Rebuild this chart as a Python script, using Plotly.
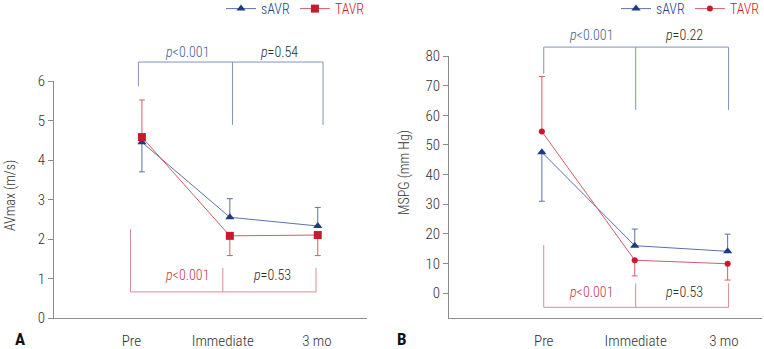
import plotly.graph_objects as go

W, H = 764, 349

# ---------------- data ----------------
categories = ["Pre", "Immediate", "3 mo"]

avmax_savr = [4.45, 2.55, 2.33]
avmax_savr_err_up = [0.0, 0.47, 0.47]
avmax_savr_err_dn = [0.75, 0.0, 0.0]
avmax_tavr = [4.58, 2.08, 2.10]
avmax_tavr_err_up = [0.94, 0.0, 0.0]
avmax_tavr_err_dn = [0.0, 0.50, 0.52]

mspg_savr = [47.5, 16.0, 14.1]
mspg_savr_err_up = [0.0, 5.6, 5.8]
mspg_savr_err_dn = [16.5, 0.0, 0.0]
mspg_tavr = [54.5, 11.1, 9.9]
mspg_tavr_err_up = [18.6, 0.0, 0.0]
mspg_tavr_err_dn = [0.0, 5.3, 5.5]

p_left_top = ["p<0.001", "p=0.54"]
p_left_bottom = ["p<0.001", "p=0.53"]
p_right_top = ["p<0.001", "p=0.22"]
p_right_bottom = ["p<0.001", "p=0.53"]

# ---------------- style ----------------
FONT = "Roboto Condensed, Liberation Sans Narrow, Arial Narrow, Roboto, sans-serif"
WEIGHT = 300
NAVY = "#1d3b82"
NAVY_LINE = "#5a72a8"
RED = "#c8192e"
RED_LINE = "#d45d6a"
TXT_BLUE = "#3f5a9c"
TXT_RED = "#c8364a"
TXT_DARK = "#2a2a2a"
BR_BLUE = "#8093bb"
BR_RED = "#dc8b94"
AXIS = "#8c8c8c"

x_idx = list(range(len(categories)))

# axis geometry (paper fractions)
LX = [54 / W, 367 / W]
LY = [(H - 318) / H, (H - 81) / H]
LXR = [-1.0, 2.56]
LYR = [0, 6]
RX = [449 / W, 762 / W]
RY = [(H - 318) / H, (H - 56) / H]
RXR = [-1.0, 2.37]
RYR = [-8.4, 80]


def to_paper(x, y, xd, yd, xr, yr):
    px = xd[0] + (x - xr[0]) / (xr[1] - xr[0]) * (xd[1] - xd[0])
    py = yd[0] + (y - yr[0]) / (yr[1] - yr[0]) * (yd[1] - yd[0])
    return px, py


fig = go.Figure()


def add_series(y, up, dn, name, color, line_color, symbol, size, xa, ya, legend):
    fig.add_trace(go.Scatter(
        x=x_idx, y=y, mode="lines+markers", name=name,
        line=dict(color=line_color, width=1),
        marker=dict(color=color, symbol=symbol, size=size),
        error_y=dict(type="data", symmetric=False, array=up, arrayminus=dn,
                     color=line_color, thickness=1, width=3),
        xaxis=xa, yaxis=ya, legend=legend, showlegend=True,
    ))


sname = f"<span style='color:{NAVY}'>sAVR</span>"
tname = f"<span style='color:{RED}'>TAVR</span>"

add_series(avmax_savr, avmax_savr_err_up, avmax_savr_err_dn, sname, NAVY, NAVY_LINE,
           "triangle-up", 8, "x", "y", "legend")
add_series(avmax_tavr, avmax_tavr_err_up, avmax_tavr_err_dn, tname, RED, RED_LINE,
           "square", 8, "x", "y", "legend")
add_series(mspg_savr, mspg_savr_err_up, mspg_savr_err_dn, sname, NAVY, NAVY_LINE,
           "triangle-up", 8, "x2", "y2", "legend2")
add_series(mspg_tavr, mspg_tavr_err_up, mspg_tavr_err_dn, tname, RED, RED_LINE,
           "circle", 6, "x2", "y2", "legend2")

shapes = []
annos = []


def bracket(xs, yh, ends, color, geo):
    xd, yd, xr, yr = geo
    p0 = to_paper(xs[0], yh, xd, yd, xr, yr)
    p1 = to_paper(xs[-1], yh, xd, yd, xr, yr)
    shapes.append(dict(type="line", xref="paper", yref="paper", x0=p0[0], y0=p0[1],
                       x1=p1[0], y1=p1[1], line=dict(color=color, width=1)))
    for xv, ye in zip(xs, ends):
        a = to_paper(xv, yh, xd, yd, xr, yr)
        b = to_paper(xv, ye, xd, yd, xr, yr)
        shapes.append(dict(type="line", xref="paper", yref="paper", x0=a[0], y0=a[1],
                           x1=b[0], y1=b[1], line=dict(color=color, width=1)))


def label(text, px, py, color, size=13, angle=0, weight=WEIGHT):
    annos.append(dict(text=text, x=px, y=py, xref="paper", yref="paper",
                      xanchor="center", yanchor="middle", textangle=angle,
                      showarrow=False,
                      font=dict(color=color, size=size, family=FONT, weight=weight)))


def ptext(lab, x, y, color, geo):
    xd, yd, xr, yr = geo
    px, py = to_paper(x, y, xd, yd, xr, yr)
    label("<i>p</i>" + lab[1:].replace("<", "&lt;"), px, py, color, 14)


GL = (LX, LY, LXR, LYR)
GR = (RX, RY, RXR, RYR)

bracket([-0.04, 1.03, 2.06], 6.48, [5.87, 4.89, 4.89], BR_BLUE, GL)
bracket([-0.13, 0.92, 1.98], 0.66, [2.25, 1.27, 1.27], BR_RED, GL)
ptext(p_left_top[0], 0.51, 6.73, TXT_BLUE, GL)
ptext(p_left_top[1], 1.56, 6.73, TXT_DARK, GL)
ptext(p_left_bottom[0], 0.51, 1.09, TXT_RED, GL)
ptext(p_left_bottom[1], 1.48, 1.09, TXT_DARK, GL)

bracket([0.02, 1.01, 2.01], 83.0, [74.0, 61.8, 61.8], BR_BLUE, GR)
bracket([0.02, 1.01, 2.01], -4.8, [16.2, 3.3, 3.3], BR_RED, GR)
ptext(p_right_top[0], 0.53, 87.2, TXT_BLUE, GR)
ptext(p_right_top[1], 1.53, 87.2, TXT_DARK, GR)
ptext(p_right_bottom[0], 0.53, 0.3, TXT_RED, GR)
ptext(p_right_bottom[1], 1.53, 0.3, TXT_DARK, GR)

# y titles and panel letters
label("AVmax (m/s)", 10 / W, (H - 196) / H, "#333", 14, -90)
label("MSPG (mm Hg)", 404 / W, (H - 172) / H, "#333", 14, -90)
label("<b>A</b>", 20 / W, (H - 339) / H, "#111", 17, 0, 400)
label("<b>B</b>", 402 / W, (H - 339) / H, "#111", 17, 0, 400)

axis_common = dict(showgrid=False, zeroline=False, linecolor=AXIS, linewidth=1,
                   tickfont=dict(size=15, color="#333", family=FONT, weight=WEIGHT))

fig.update_layout(
    width=W, height=H, margin=dict(l=0, r=0, t=0, b=0, autoexpand=False),
    paper_bgcolor="white", plot_bgcolor="white",
    font=dict(family=FONT, size=13, color="#444"),
    shapes=shapes, annotations=annos,
    xaxis=dict(domain=LX, range=LXR, showline=True, ticks="",
               tickvals=[-0.12, 0.92, 1.99], ticktext=categories,
               ticklabelstandoff=9, anchor="y", **axis_common),
    yaxis=dict(domain=LY, range=LYR, showline=True, ticks="outside", ticklen=5,
               tickcolor=AXIS, dtick=1, anchor="x", **axis_common),
    xaxis2=dict(domain=RX, range=RXR, showline=True, ticks="",
                tickvals=[0.02, 1.01, 1.96], ticktext=categories,
                ticklabelstandoff=9, anchor="y2", **axis_common),
    yaxis2=dict(domain=RY, range=RYR, showline=True, ticks="outside", ticklen=5,
                tickcolor=AXIS, tickvals=[0, 10, 20, 30, 40, 50, 60, 70, 80],
                anchor="x2", **axis_common),
    legend=dict(orientation="h", x=370 / W, xanchor="right", y=1.02, yanchor="top",
                font=dict(size=14, family=FONT, weight=WEIGHT), itemwidth=30,
                tracegroupgap=0, bgcolor="rgba(0,0,0,0)"),
    legend2=dict(orientation="h", x=765 / W, xanchor="right", y=1.02, yanchor="top",
                 font=dict(size=14, family=FONT, weight=WEIGHT), itemwidth=30,
                 tracegroupgap=0, bgcolor="rgba(0,0,0,0)"),
)

fig.write_html("out.html", post_script="document.body.style.margin='0';",
               config={"displayModeBar": False})
